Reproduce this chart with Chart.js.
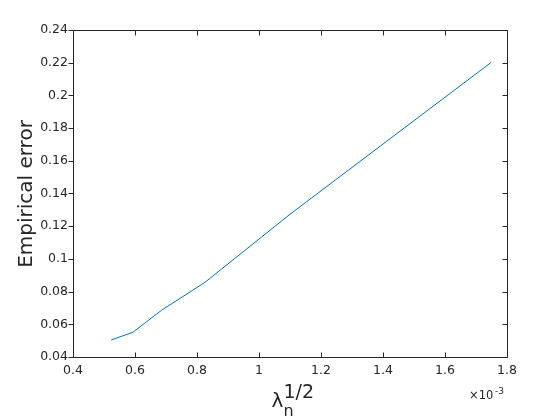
<!DOCTYPE html>
<html>
<head>
<meta charset="utf-8">
<script src="https://cdn.jsdelivr.net/npm/chart.js@4/dist/chart.umd.min.js"></script>
<style>
  html, body { margin: 0; padding: 0; background: #fff; }
  #wrap { width: 560px; height: 420px; position: relative; }
</style>
</head>
<body>
<div id="wrap"><canvas id="errChart"></canvas></div>
<script>
// values (x in units of 1e-3)
const lambdaSqrt = [0.523, 0.593, 0.685, 0.826, 1.1, 1.749];
const empiricalError = [0.0504, 0.0551, 0.0685, 0.0857, 0.1273, 0.2202];

const xTicks = [0.4, 0.6, 0.8, 1, 1.2, 1.4, 1.6, 1.8];
const yTicks = [0.04, 0.06, 0.08, 0.1, 0.12, 0.14, 0.16, 0.18, 0.2, 0.22, 0.24];

const axisColor = "#262626";
const fontFam = "'DejaVu Sans', sans-serif";

const points = lambdaSqrt.map((x, i) => ({ x, y: empiricalError[i] }));

// matlab-ish box, ticks and labels
const matlabAxes = {
  id: "matlabAxes",
  afterDraw(chart) {
    const { ctx, chartArea: a, scales } = chart;
    const L = a.left + 0.5, R = a.right + 0.5, T = a.top + 0.5, B = a.bottom + 0.5;
    ctx.save();
    ctx.strokeStyle = axisColor;
    ctx.lineWidth = 1;
    ctx.strokeRect(L, T, R - L, B - T);

    ctx.beginPath();
    xTicks.forEach(v => {
      const px = Math.round(scales.x.getPixelForValue(v)) + 0.5;
      ctx.moveTo(px, B); ctx.lineTo(px, B - 5);
      ctx.moveTo(px, T); ctx.lineTo(px, T + 5);
    });
    yTicks.forEach(v => {
      const py = Math.round(scales.y.getPixelForValue(v)) + 0.5;
      ctx.moveTo(L, py); ctx.lineTo(L - 5, py);
      ctx.moveTo(R, py); ctx.lineTo(R - 5, py);
    });
    ctx.stroke();

    ctx.fillStyle = axisColor;
    ctx.textBaseline = "alphabetic";
    ctx.textAlign = "left";

    // y title
    ctx.save();
    ctx.translate(31.5, 194);
    ctx.rotate(-Math.PI / 2);
    ctx.textAlign = "center";
    ctx.font = "20px " + fontFam;
    ctx.fillText("Empirical error", 0, 0);
    ctx.restore();

    // x title: lambda_n^{1/2}
    ctx.font = "20px " + fontFam;
    ctx.fillText("\u03bb", 271.5, 406.5);
    ctx.font = "19px " + fontFam;
    ctx.fillText("1/2", 283.5, 398);
    ctx.font = "16px " + fontFam;
    ctx.fillText("n", 283.5, 416);

    // exponent
    ctx.font = "11.5px " + fontFam;
    ctx.fillText("\u00d710", 469, 398.5);
    ctx.font = "9px " + fontFam;
    ctx.fillText("-3", 495, 393.5);
    ctx.restore();
  }
};

new Chart(document.getElementById("errChart"), {
  type: "line",
  data: {
    datasets: [{
      data: points,
      borderColor: "#0072bd",
      borderWidth: 1,
      pointRadius: 0,
      tension: 0,
      fill: false
    }]
  },
  options: {
    responsive: true,
    maintainAspectRatio: false,
    animation: false,
    layout: { padding: { top: 30, right: 53, left: 0, bottom: 0 } },
    plugins: { legend: { display: false }, tooltip: { enabled: false } },
    scales: {
      x: {
        type: "linear",
        min: 0.4, max: 1.8,
        afterFit: s => { s.height = 63; },
        afterBuildTicks: s => { s.ticks = xTicks.map(v => ({ value: v })); },
        grid: { display: false, drawTicks: false },
        border: { display: false },
        ticks: {
          padding: 6,
          color: axisColor,
          font: { family: fontFam, size: 12.5 },
          callback: v => String(+v.toFixed(2))
        }
      },
      y: {
        min: 0.04, max: 0.24,
        afterFit: s => { s.width = 73; },
        afterBuildTicks: s => { s.ticks = yTicks.map(v => ({ value: v })); },
        grid: { display: false, drawTicks: false },
        border: { display: false },
        ticks: {
          padding: 5,
          color: axisColor,
          font: { family: fontFam, size: 12.5 },
          callback: v => String(+v.toFixed(2))
        }
      }
    }
  },
  plugins: [matlabAxes]
});
</script>
</body>
</html>
